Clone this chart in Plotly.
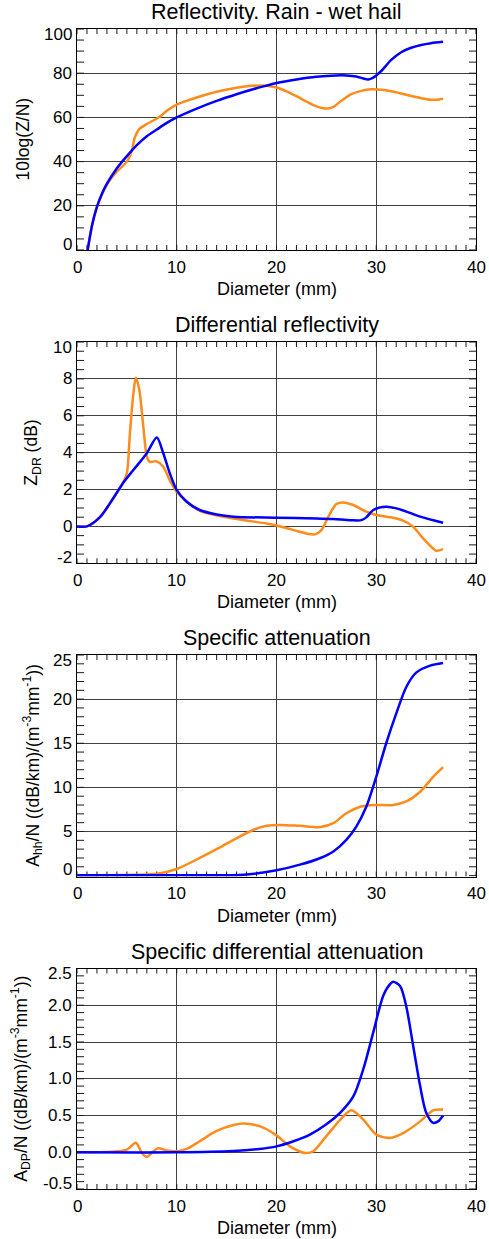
import numpy as np
import plotly.graph_objects as go

# ---------------- data: drop diameter (mm) and scattering quantities ----------------
# Reflectivity 10log(Z/N)
refl_d_orange = [1.0, 1.5, 2.0, 3.0, 4.0, 5.0, 5.5, 5.8, 6.2, 7.0, 8.0, 8.5, 9.0, 10.0, 12.0, 14.0,
                 16.0, 17.5, 19.0, 20.0, 21.0, 22.0, 23.0, 24.0, 25.0, 25.7, 26.5, 27.5, 28.5, 29.5,
                 30.5, 31.5, 32.5, 33.5, 34.5, 35.5, 36.2, 36.7]
refl_orange = [-2, 11, 19.5, 29.5, 35.5, 40, 45, 51, 54.5, 57, 59.5, 61, 63, 65.8, 69, 71.6,
               73.4, 74.3, 74.3, 73.5, 71.8, 69.6, 67.2, 65, 64, 64.8, 67.5, 70.5, 72, 72.7,
               72.5, 71.8, 70.8, 69.7, 68.7, 68, 68, 68.4]
refl_d_blue = [1.0, 1.5, 2.0, 2.5, 3.0, 4.0, 5.0, 6.0, 7.0, 8.0, 9.0, 10.0, 12.0, 14.0, 16.0, 18.0,
               20.0, 22.0, 24.0, 26.0, 27.0, 28.0, 28.7, 29.2, 29.7, 30.5, 31.5, 32.5, 33.5, 34.5,
               35.5, 36.7]
refl_blue = [-2, 11, 19.5, 25.5, 30, 37, 42.5, 47.5, 51.5, 54.5, 57.5, 60, 64, 67.5, 70.5, 73.2,
             75.6, 77.2, 78.4, 79, 79, 78.5, 77.6, 77.2, 78, 81, 86, 89.5, 91.5, 92.8,
             93.6, 94.2]

# Differential reflectivity ZDR (dB)
zdr_d_orange = [0, 1.0, 2.3, 3.3, 4.6, 5.0, 5.3, 5.65, 5.9, 6.25, 6.65, 7.0, 7.3, 8.0, 8.65, 9.3,
                10.0, 11.0, 12.3, 15.7, 19.0, 20.0, 21.7, 23.0, 23.85, 24.5, 25.2, 26.0, 26.7,
                27.7, 29.0, 30.0, 31.7, 32.7, 33.7, 34.7, 35.7, 36.0, 36.7]
zdr_orange = [0, 0, 0.5, 1.25, 2.34, 2.9, 5.0, 7.2, 8.06, 7.4, 5.4, 3.8, 3.5, 3.53, 3.24, 2.5,
              1.88, 1.34, 0.85, 0.43, 0.16, 0.05, -0.2, -0.38, -0.43, -0.2, 0.53, 1.21, 1.3,
              1.16, 0.8, 0.62, 0.47, 0.31, -0.02, -0.65, -1.2, -1.32, -1.23]
zdr_d_blue = [0, 1.0, 2.3, 3.3, 4.6, 5.65, 7.0, 8.0, 8.65, 9.3, 10.0, 11.0, 12.3, 14.0, 15.7,
              20.0, 24.0, 25.7, 27.4, 28.5, 29.0, 29.7, 31.0, 32.4, 34.4, 36.7]
zdr_blue = [0, 0, 0.5, 1.25, 2.34, 3.06, 3.97, 4.82, 3.97, 2.88, 1.97, 1.34, 0.89, 0.65, 0.53,
            0.47, 0.43, 0.4, 0.34, 0.34, 0.49, 0.89, 1.07, 0.92, 0.53, 0.2]

# Specific attenuation Ahh/N
ah_d_orange = [0, 5.65, 8.0, 10.0, 12.3, 14.0, 15.7, 17.7, 19.0, 20.35, 22.35, 24.4, 25.7, 27.0,
               28.4, 29.7, 31.7, 33.0, 34.4, 35.7, 36.7]
ah_orange = [0.05, 0.1, 0.2, 0.75, 2.0, 3.0, 4.06, 5.2, 5.64, 5.75, 5.64, 5.5, 5.94, 7.07,
             7.8, 8.0, 8.0, 8.4, 9.5, 11.2, 12.3]
ah_d_blue = [0, 10.0, 16.7, 20.0, 22.35, 24.4, 25.7, 27.0, 28.0, 29.0, 30.0, 31.0, 32.0, 33.0,
             34.0, 35.4, 36.7]
ah_blue = [0.05, 0.05, 0.1, 0.6, 1.24, 2.0, 2.74, 4.06, 5.56, 7.8, 11.2, 15.0, 18.35, 21.35,
           23.0, 23.8, 24.1]

# Specific differential attenuation ADP/N
adp_d_orange = [0, 5.0, 5.9, 6.5, 7.0, 7.65, 8.15, 9.0, 10.0, 11.0, 12.3, 14.0, 15.7, 16.7, 18.3,
                20.0, 21.35, 22.85, 23.7, 25.0, 26.4, 27.5, 28.7, 30.0, 31.4, 32.7, 34.4, 35.7,
                36.7]
adp_orange = [0, 0.036, 0.13, -0.01, -0.064, 0.014, 0.055, 0.023, 0.014, 0.045, 0.15, 0.29, 0.37,
              0.39, 0.355, 0.23, 0.08, -0.01, 0.014, 0.22, 0.445, 0.57, 0.445, 0.24, 0.195, 0.26,
              0.42, 0.57, 0.58]
adp_d_blue = [0, 10.0, 15.7, 18.3, 20.0, 21.7, 23.35, 25.0, 26.4, 27.7, 28.7, 29.7, 30.7, 31.4,
              31.7, 32.4, 33.0, 33.7, 34.4, 35.0, 35.7, 36.2, 36.7]
adp_blue = [0, 0.0, 0.018, 0.045, 0.08, 0.15, 0.24, 0.38, 0.54, 0.76, 1.13, 1.63, 2.13, 2.29,
            2.32, 2.26, 1.99, 1.45, 0.9, 0.54, 0.4, 0.42, 0.5]

titles = ["Reflectivity. Rain - wet hail", "Differential reflectivity",
          "Specific attenuation", "Specific differential attenuation"]
y_titles = ["10log(Z/N)", "Z<sub>DR</sub> (dB)",
            "A<sub>hh</sub>/N ((dB/km)/(m<sup>-3</sup>mm<sup>-1</sup>))",
            "A<sub>DP</sub>/N ((dB/km)/(m<sup>-3</sup>mm<sup>-1</sup>))"]
x_title = "Diameter (mm)"
x_ticks = [0, 10, 20, 30, 40]
x_ticktext = ["0", "10", "20", "30", "40"]
y_ticks = [[0, 20, 40, 60, 80, 100],
           [-2, 0, 2, 4, 6, 8, 10],
           [0, 5, 10, 15, 20, 25],
           [-0.5, 0.0, 0.5, 1.0, 1.5, 2.0, 2.5]]
y_ticktext = [["0", "20", "40", "60", "80", "100"],
              ["-2", "0", "2", "4", "6", "8", "10"],
              ["0", "5", "10", "15", "20", "25"],
              ["-0.5", "0.0", "0.5", "1.0", "1.5", "2.0", "2.5"]]

series = [
    (refl_d_orange, refl_orange, refl_d_blue, refl_blue),
    (zdr_d_orange, zdr_orange, zdr_d_blue, zdr_blue),
    (ah_d_orange, ah_orange, ah_d_blue, ah_blue),
    (adp_d_orange, adp_orange, adp_d_blue, adp_blue),
]

# ---------------- layout geometry (pixels) ----------------
W, H = 489, 1239
X0, X1 = 77, 476
panel_px = [(29, 250), (342, 563.3), (655, 876.5), (968.5, 1189)]
x_range = [0, 40]
y_ranges = [[0, 100], [-2, 10], [-0.1, 25], [-0.5, 2.5]]
y_major = [20, 2, 5, 0.5]
y_minor = [5, 0.5, 1, 0.1]
y_minor_start = [0, -2, 0, -0.5]
x_minor = 1
title_px = [12, 325, 638, 952]
ytitle_x_px = [23, 33, 33, 21]
X_TICK_PX = 5   # length of the small ticks on the top/bottom edges
Y_TICK_PX = 7   # length of the small ticks on the left/right edges

ORANGE = "#ff8c1a"
BLUE = "#0000ff"
GRID = "#404040"
FONT = "Liberation Sans, Arial, sans-serif"

fig = go.Figure()
layout = dict(
    template="none",
    width=W, height=H, margin=dict(l=0, r=0, t=0, b=0),
    paper_bgcolor="white", plot_bgcolor="white",
    showlegend=False, font=dict(family=FONT, size=17, color="black"),
)
annotations = []

for i, (d_o, v_o, d_b, v_b) in enumerate(series):
    n = i + 1
    xa = "x" if n == 1 else "x%d" % n
    ya = "y" if n == 1 else "y%d" % n
    top, bot = panel_px[i]
    lo, hi = y_ranges[i]

    # inward tick marks on all four edges, as short segments in axis units
    x_per_px = (x_range[1] - x_range[0]) / (X1 - X0)
    y_per_px = (hi - lo) / (bot - top)
    tx, ty = [], []
    for xv in np.arange(x_range[0], x_range[1] + x_minor / 2, x_minor):
        xv = float(xv)
        tx += [xv, xv, None, xv, xv, None]
        ty += [lo, lo + X_TICK_PX * y_per_px, None, hi, hi - X_TICK_PX * y_per_px, None]
    for yv in np.arange(y_minor_start[i], hi + y_minor[i] / 2, y_minor[i]):
        yv = float(yv)
        tx += [x_range[0], x_range[0] + Y_TICK_PX * x_per_px, None,
               x_range[1], x_range[1] - Y_TICK_PX * x_per_px, None]
        ty += [yv, yv, None, yv, yv, None]
    fig.add_trace(go.Scatter(x=tx, y=ty, mode="lines", xaxis=xa, yaxis=ya, hoverinfo="skip",
                             connectgaps=False, line=dict(color="#1a1a1a", width=1)))

    fig.add_trace(go.Scatter(x=d_o, y=v_o, mode="lines", xaxis=xa, yaxis=ya,
                             line=dict(color=ORANGE, width=2.5, shape="spline", smoothing=0.8)))
    fig.add_trace(go.Scatter(x=d_b, y=v_b, mode="lines", xaxis=xa, yaxis=ya,
                             line=dict(color=BLUE, width=2.5, shape="spline", smoothing=0.8)))

    dom_y = [1 - bot / H, 1 - top / H]
    key_x = "xaxis" if n == 1 else "xaxis%d" % n
    key_y = "yaxis" if n == 1 else "yaxis%d" % n

    layout[key_x] = dict(
        domain=[X0 / W, X1 / W], range=x_range, anchor=ya,
        dtick=10, ticks="",
        showline=True, linecolor="black", linewidth=1, mirror=True,
        showgrid=True, gridcolor=GRID, gridwidth=1, zeroline=False,
        showticklabels=False,
    )
    layout[key_y] = dict(
        domain=dom_y, range=y_ranges[i], anchor=xa,
        dtick=y_major[i], tick0=0, ticks="",
        showline=True, linecolor="black", linewidth=1, mirror=True,
        showgrid=True, gridcolor=GRID, gridwidth=1, zeroline=False,
        showticklabels=False,
    )

    # x tick labels under the frame
    for val, txt in zip(x_ticks, x_ticktext):
        annotations.append(dict(
            text=txt, xref=xa, yref=ya + " domain", x=val, y=0, xanchor="center",
            yanchor="middle", yshift=-17, showarrow=False, font=dict(size=17)))

    # y tick labels; the two end labels sit slightly inside the frame
    vals = y_ticks[i]
    for k, (val, txt) in enumerate(zip(vals, y_ticktext[i])):
        shift = 6 if k == 0 else (-5 if k == len(vals) - 1 else 0)
        annotations.append(dict(
            text=txt, xref="paper", yref=ya, x=X0 / W, y=val, xanchor="right", yanchor="middle",
            xshift=-3, yshift=shift, showarrow=False, font=dict(size=17)))

    # panel title
    annotations.append(dict(
        text=titles[i], xref="paper", yref="paper", x=(X0 + X1) / 2 / W, y=1 - title_px[i] / H,
        xanchor="center", yanchor="middle", showarrow=False, font=dict(size=21.5)))
    # x-axis title
    annotations.append(dict(
        text=x_title, xref="paper", yref="paper", x=(X0 + X1) / 2 / W, y=1 - (bot + 39) / H,
        xanchor="center", yanchor="middle", showarrow=False, font=dict(size=18)))
    # y-axis title
    annotations.append(dict(
        text=y_titles[i], xref="paper", yref="paper", x=ytitle_x_px[i] / W,
        y=1 - (top + bot) / 2 / H, xanchor="center", yanchor="middle", textangle=-90,
        showarrow=False, font=dict(size=17.5)))

layout["annotations"] = annotations
fig.update_layout(**layout)
fig.write_html("out.html")
